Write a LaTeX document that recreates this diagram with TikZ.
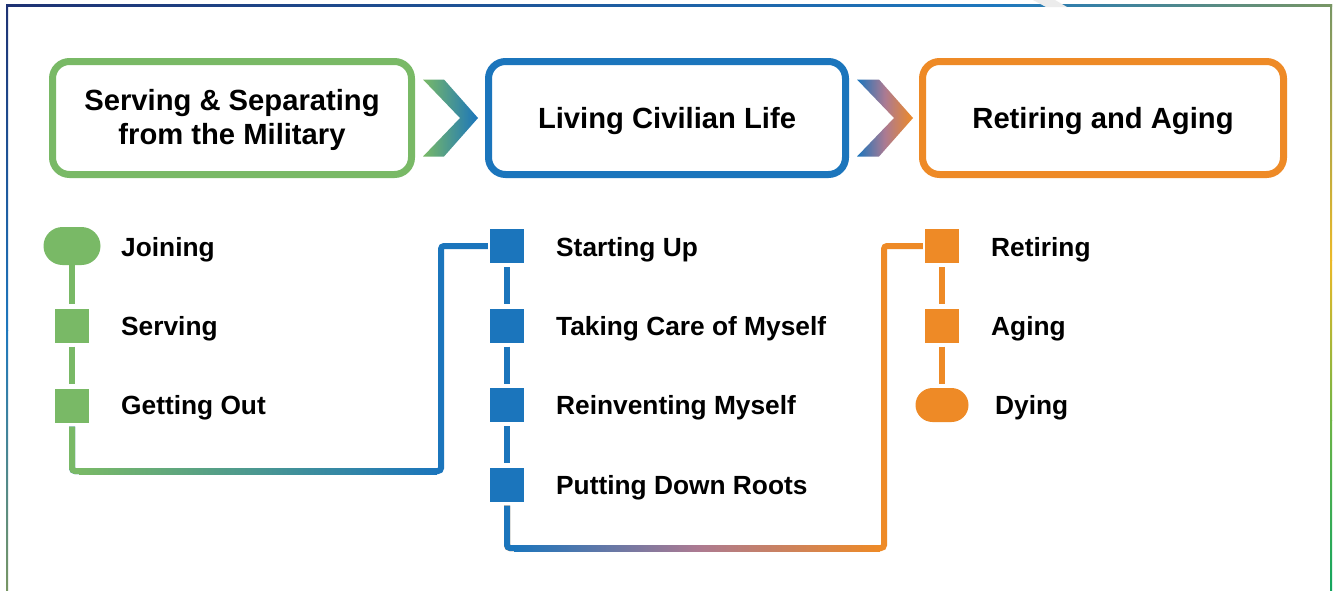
\documentclass[tikz,border=0pt]{standalone}
\usepackage{fontspec}
\setmainfont{Liberation Sans}
\usetikzlibrary{shapes.misc,calc}
\definecolor{cgreen}{RGB}{121,185,102}
\definecolor{cblue}{RGB}{27,117,188}
\definecolor{corange}{RGB}{238,138,38}
\definecolor{cmid}{RGB}{172,122,146}
\definecolor{cnavy}{RGB}{30,50,115}
\definecolor{cframeblue}{RGB}{30,120,190}
\definecolor{cgraygreen}{RGB}{120,150,100}
\definecolor{cgold}{RGB}{235,185,40}
\definecolor{cfgreen}{RGB}{110,180,70}
\definecolor{cteal}{RGB}{20,165,95}
\begin{document}
\begin{tikzpicture}[x=1pt,y=-1pt,
  titlebox/.style={rectangle, rounded corners=17pt, line width=7pt, fill=white,
    font=\bfseries\fontsize{29.2}{34}\selectfont, align=center, inner sep=0pt,
    minimum height=113pt},
  sq/.style={rectangle, minimum size=34pt, inner sep=0pt},
  pill/.style={rounded rectangle, inner sep=0pt},
  lbl/.style={anchor=base west, inner sep=0pt, font=\bfseries\fontsize{26.3}{30}\selectfont},
  vline/.style={line width=6pt}]
\useasboundingbox (0,0) rectangle (1333,590);
\fill[white] (0,0) rectangle (1333,590);
% frame
\shade[left color=cnavy, right color=cframeblue] (6,4.5) rectangle (1000.5,6.5);
\shade[left color=cframeblue, right color=cgraygreen] (1000,4.5) rectangle (1332,6.5);
\shade[top color=cnavy, bottom color=cframeblue] (6,4.5) rectangle (8,330.5);
\shade[top color=cframeblue, bottom color=cgraygreen] (6,330) rectangle (8,590);
\shade[top color=cgraygreen, bottom color=cgold] (1330,4.5) rectangle (1332,260.5);
\shade[top color=cgold, bottom color=cfgreen] (1330,260) rectangle (1332,420.5);
\shade[top color=cfgreen, bottom color=cteal] (1330,420) rectangle (1332,590);
\fill[gray!15] (1033,0) -- (1055,0) -- (1067,7) -- (1046,7) -- cycle;
% title boxes
\node[titlebox, draw=cgreen, minimum width=359pt] (b1) at (232,118) {};
\node[font=\bfseries\fontsize{29.2}{34}\selectfont, align=center, inner sep=0pt] (t1) at (232,120) {Serving \& Separating\\from the Military};
\node[titlebox, draw=cblue, minimum width=357pt, text height=20.8pt, text depth=0pt] (b2) at (667,118) {Living Civilian Life};
\node[titlebox, draw=corange, minimum width=361pt, text height=20.8pt, text depth=0pt] (b3) at (1103,118) {Retiring and Aging};
% chevrons
\shade[left color=cgreen, right color=cblue] (423,79.5) -- (444,79.5) -- (478,118) -- (444,156.5) -- (423,156.5) -- (460,118) -- cycle;
\shade[left color=cblue, right color=corange, middle color=cmid] (857,79.5) -- (879,79.5) -- (913,118) -- (879,156.5) -- (857,156.5) -- (894,118) -- cycle;
% green column
\node[pill, fill=cgreen, minimum width=57pt, minimum height=38pt] (join) at (72,246) {};
\node[sq, fill=cgreen] (serv) at (72,325.5) {};
\node[sq, fill=cgreen] (gout) at (72,405.5) {};
\node[lbl] (tjoin) at (121,256) {Joining};
\node[lbl] (tserv) at (121,335) {Serving};
\node[lbl] (tgout) at (121,414) {Getting Out};
\draw[vline, cgreen] (join.south) -- ([yshift=4pt]serv.north);
\draw[vline, cgreen] ([yshift=-4pt]serv.south) -- ([yshift=4pt]gout.north);
% blue column
\node[sq, fill=cblue] (su) at (507,246) {};
\node[sq, fill=cblue] (tc) at (507,325.5) {};
\node[sq, fill=cblue] (rm) at (507,405) {};
\node[sq, fill=cblue] (pd) at (507,484.5) {};
\node[lbl] (tsu) at (556,256) {Starting Up};
\node[lbl] (ttc) at (556,335) {Taking Care of Myself};
\node[lbl] (trm) at (556,414) {Reinventing Myself};
\node[lbl] (tpd) at (556,494) {Putting Down Roots};
\draw[vline, cblue] ([yshift=-4pt]su.south) -- ([yshift=4pt]tc.north);
\draw[vline, cblue] ([yshift=-4pt]tc.south) -- ([yshift=4pt]rm.north);
\draw[vline, cblue] ([yshift=-4pt]rm.south) -- ([yshift=4pt]pd.north);
% orange column
\node[sq, fill=corange] (ret) at (942,246) {};
\node[sq, fill=corange] (age) at (942,325.5) {};
\node[pill, fill=corange, minimum width=53pt, minimum height=34pt] (dy) at (942,405) {};
\node[lbl] (tret) at (991,256) {Retiring};
\node[lbl] (tage) at (991,335) {Aging};
\node[lbl] (tdy) at (995,414) {Dying};
\draw[vline, corange] ([yshift=-4pt]ret.south) -- ([yshift=4pt]age.north);
\draw[vline, corange] ([yshift=-4pt]age.south) -- ([yshift=4pt]dy.north);
% connector green -> blue
\coordinate (k1) at (72,471);
\coordinate (k2) at (441,471);
\coordinate (k3) at (441,246);
\coordinate (k3e) at ([xshift=-2pt]su.west);
\draw[vline, cblue, rounded corners=3pt] ([yshift=-4pt]gout.south) -- (k1) -- (k2) -- (k3) -- (k3e);
\draw[vline, cgreen, rounded corners=3pt] ([yshift=-4pt]gout.south) -- (k1) -- ([xshift=8pt]k1);
\shade[left color=cgreen, right color=cblue] ([xshift=7pt,yshift=3pt]k1) rectangle ([xshift=-4pt,yshift=-3pt]k2);
% connector blue -> orange
\coordinate (k4) at (507,548);
\coordinate (k5) at (884,548);
\coordinate (k6) at (884,246);
\coordinate (k6e) at ([xshift=-2pt]ret.west);
\draw[vline, corange, rounded corners=3pt] ([yshift=-4pt]pd.south) -- (k4) -- (k5) -- (k6) -- (k6e);
\draw[vline, cblue, rounded corners=3pt] ([yshift=-4pt]pd.south) -- (k4) -- ([xshift=8pt]k4);
\shade[left color=cblue, right color=corange, middle color=cmid] ([xshift=7pt,yshift=3pt]k4) rectangle ([xshift=-4pt,yshift=-3pt]k5);
\end{tikzpicture}
\end{document}
